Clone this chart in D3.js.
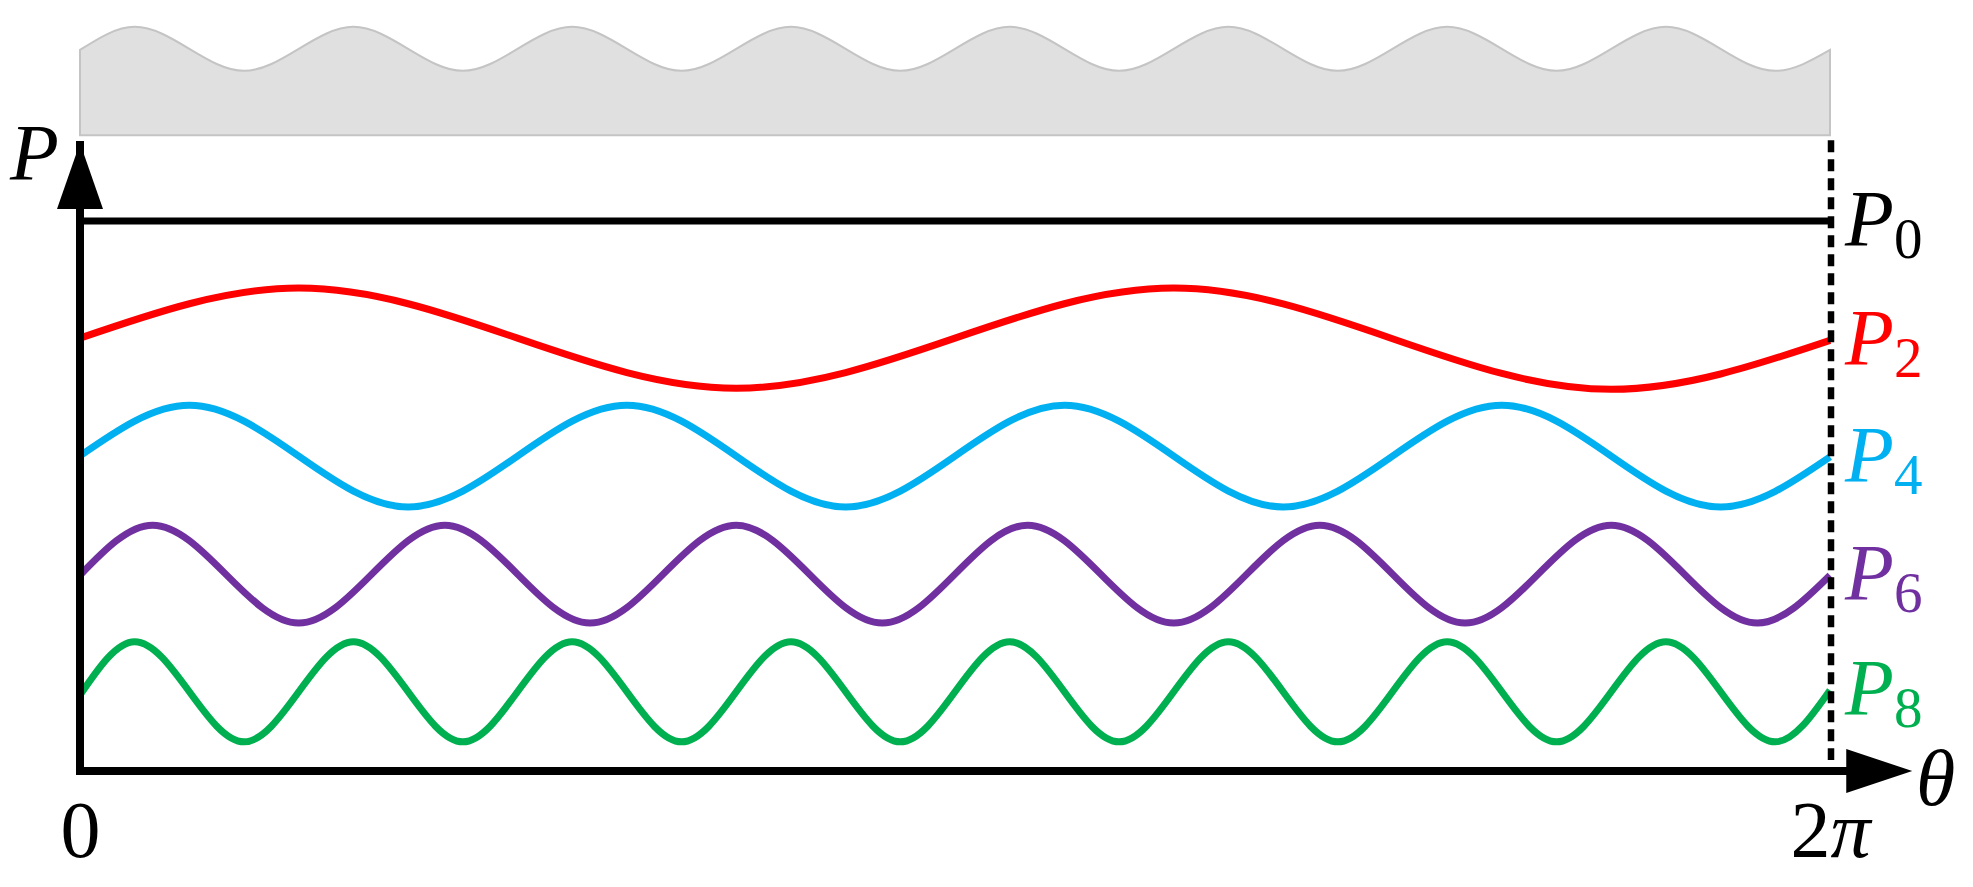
<!DOCTYPE html>
<html>
<head>
<meta charset="utf-8">
<script src="https://cdn.jsdelivr.net/npm/d3@7"></script>
<style>
  body { margin: 0; background: #fff; }
  text { font-family: "Liberation Serif", "Times New Roman", serif; }
</style>
</head>
<body>
<div id="chart"></div>
<script>
// theta is in units of pi (0..2), P in units of P0
var p0 = [[0, 1], [2, 1]];
var p2 = [[0, .787], [.25, .878], [.75, .696], [1.25, .878], [1.75, .694], [2, .783]];
var p4 = [[0, .573], [.125, .665], [.375, .480], [.625, .665], [.875, .480], [1.125, .665],
          [1.375, .480], [1.625, .665], [1.875, .480], [2, .571]];
var p6 = [[0, .356], [.083, .447], [.25, .269], [.417, .447], [.583, .269], [.75, .447],
          [.917, .269], [1.083, .447], [1.25, .269], [1.417, .447], [1.583, .269],
          [1.75, .447], [1.917, .269], [2, .356]];
var p8 = [[0, .138], [.0625, .235], [.1875, .053], [.3125, .235], [.4375, .053], [.5625, .235],
          [.6875, .053], [.8125, .235], [.9375, .053], [1.0625, .235], [1.1875, .053],
          [1.3125, .235], [1.4375, .053], [1.5625, .235], [1.6875, .053], [1.8125, .235],
          [1.9375, .053], [2, .147]];

var seriesSubs = ["0", "2", "4", "6", "8"];
var seriesColors = ["#000000", "#ff0000", "#00b0f0", "#7030a0", "#00b050"];

// grey ring surface drawn above the plot
var bandTop = [[0, 1.311], [.0625, 1.353], [.1875, 1.273], [.3125, 1.353], [.4375, 1.273],
               [.5625, 1.353], [.6875, 1.273], [.8125, 1.353], [.9375, 1.273], [1.0625, 1.353],
               [1.1875, 1.273], [1.3125, 1.353], [1.4375, 1.273], [1.5625, 1.353],
               [1.6875, 1.273], [1.8125, 1.353], [1.9375, 1.273], [2, 1.311]];
var bandBase = 1.156;

var tickValues = [0, 2];
var tickLabels = ["0", "2π"];

var width = 1973, height = 887;

var svg = d3.select('#chart').append('svg')
            .attr('width', width)
            .attr('height', height);

var x = d3.scaleLinear().domain([0, 2]).range([80, 1830]);
var y = d3.scaleLinear().domain([0, 1]).range([771, 221]);

var line = d3.line()
    .x(function(d) { return x(d[0]); })
    .y(function(d) { return y(d[1]); })
    .curve(d3.curveMonotoneX);

// grey band
svg.append('path')
   .datum(bandTop)
   .attr('fill', '#e0e0e0')
   .attr('stroke', '#c4c4c4')
   .attr('stroke-width', 2)
   .attr('d', d3.area()
        .x(function(d) { return x(d[0]); })
        .y0(y(bandBase))
        .y1(function(d) { return y(d[1]); })
        .curve(d3.curveMonotoneX));

// ticks along theta
var xAxis = svg.append('g')
   .attr('transform', 'translate(0,' + y(0) + ')')
   .call(d3.axisBottom(x).tickValues(tickValues).tickSize(0).tickPadding(29)
         .tickFormat(function(d, i) { return tickLabels[i]; }));
xAxis.select('.domain').remove();
xAxis.selectAll('text')
     .attr('font-family', '"Liberation Serif", serif')
     .attr('font-size', 80)
     .attr('fill', '#000')
     .each(function(d, i) {
        if (tickLabels[i] === "2π") {
          var t = d3.select(this).text(null);
          t.append('tspan').text('2');
          t.append('tspan').attr('font-style', 'italic').text('π');
        }
     });

// curves
var series = [p0, p2, p4, p6, p8];
series.forEach(function(s, i) {
  svg.append('path')
     .datum(s)
     .attr('fill', 'none')
     .attr('stroke', seriesColors[i])
     .attr('stroke-width', 7)
     .attr('d', line);

  var last = s[s.length - 1];
  var lbl = svg.append('text')
     .attr('x', x(2) + 15)
     .attr('y', y(last[1]) + 25)
     .attr('fill', seriesColors[i])
     .attr('font-size', 80);
  lbl.append('tspan').attr('font-style', 'italic').text('P');
  lbl.append('tspan').attr('font-size', 57).attr('dy', 12).text(seriesSubs[i]);
});

// axes with arrow heads
var ax = svg.append('g');
ax.append('line')
  .attr('x1', x(0)).attr('x2', x(0))
  .attr('y1', y(0) + 4).attr('y2', y(1.2) + 30)
  .attr('stroke', '#000').attr('stroke-width', 8);
ax.append('line')
  .attr('x1', x(0) - 4).attr('x2', x(2.09) - 60)
  .attr('y1', y(0)).attr('y2', y(0))
  .attr('stroke', '#000').attr('stroke-width', 8);
ax.append('path')
  .attr('d', 'M' + x(0) + ',' + y(1.142) + 'l23,66h-46z')
  .attr('fill', '#000');
ax.append('path')
  .attr('d', 'M' + x(2.094) + ',' + y(0) + 'l-66,-22v44z')
  .attr('fill', '#000');

// dashed marker at 2pi
svg.append('line')
   .attr('x1', x(2) + 1).attr('x2', x(2) + 1)
   .attr('y1', y(1.147)).attr('y2', y(0.02))
   .attr('stroke', '#000')
   .attr('stroke-width', 6.5)
   .attr('stroke-dasharray', '12,7');

// axis names
svg.append('text')
   .attr('x', 10).attr('y', 180)
   .attr('font-size', 80).attr('font-style', 'italic')
   .text('P');
svg.append('text')
   .attr('x', 1916).attr('y', 805)
   .attr('font-size', 80).attr('font-style', 'italic')
   .text('θ');
</script>
</body>
</html>
